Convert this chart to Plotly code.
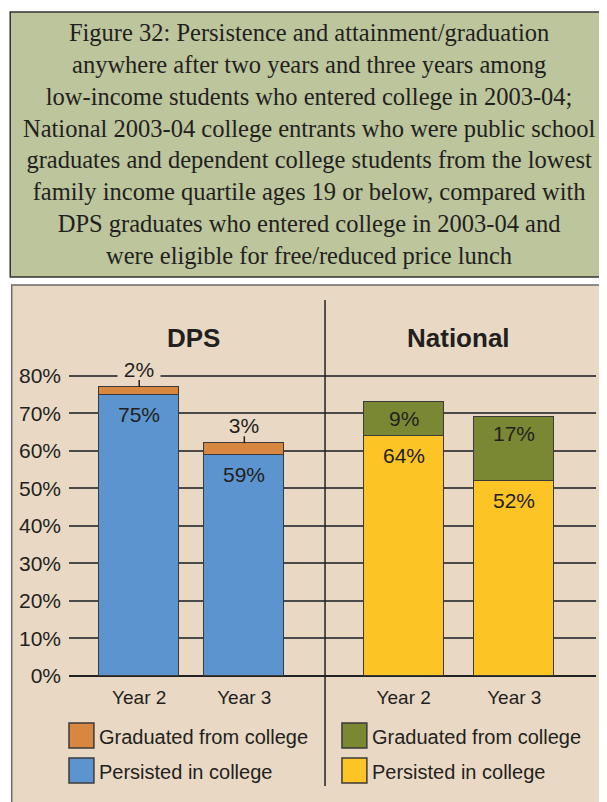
import plotly.graph_objects as go

# ---- data ----
years = ["Year 2", "Year 3"]
dps_persisted = [75, 59]
dps_graduated = [2, 3]
nat_persisted = [64, 52]
nat_graduated = [9, 17]
group_titles = ["DPS", "National"]
series_names = ["Graduated from college", "Persisted in college"]
y_ticks = [0, 10, 20, 30, 40, 50, 60, 70, 80]
title_lines = [
    "Figure 32: Persistence and attainment/graduation",
    "anywhere after two years and three years among",
    "low-income students who entered college in 2003-04;",
    "National 2003-04 college entrants who were public school",
    "graduates and dependent college students from the lowest",
    "family income quartile ages 19 or below, compared with",
    "DPS graduates who entered college in 2003-04 and",
    "were eligible for free/reduced price lunch",
]

# ---- styling ----
BLUE = "#5b94ce"
ORANGE = "#d88740"
YELLOW = "#fdc425"
OLIVE = "#7a8834"
BEIGE = "#e9d9c4"
GREENBOX = "#bcc59b"
INK = "#231f20"
EDGE = "#3a3a3a"
SANS = "Liberation Sans, Arial, sans-serif"
SERIF = "Liberation Serif, Times New Roman, serif"

# page is 607x802; the html body has an 8px margin, so the figure is offset
PAGE_W, PAGE_H, OFF = 607, 802, 8
W_FIG, H_FIG = PAGE_W - OFF, PAGE_H - OFF
L, R, T, B = 67, 596, 372, 676  # plot area in page pixels
PW, PH = R - L, B - T


def px_x(x):
    return (x - L) / PW


def px_y(y):
    return (B - y) / PH


split = px_x(324)

fig = go.Figure()
line = dict(color=EDGE, width=1.5)
fig.add_trace(go.Bar(x=years, y=dps_persisted, marker=dict(color=BLUE, line=line),
                     width=0.758, xaxis="x", yaxis="y", name=series_names[1]))
fig.add_trace(go.Bar(x=years, y=dps_graduated, marker=dict(color=ORANGE, line=line),
                     width=0.758, xaxis="x", yaxis="y", name=series_names[0]))
fig.add_trace(go.Bar(x=years, y=nat_persisted, marker=dict(color=YELLOW, line=line),
                     width=0.72, xaxis="x2", yaxis="y", name=series_names[1]))
fig.add_trace(go.Bar(x=years, y=nat_graduated, marker=dict(color=OLIVE, line=line),
                     width=0.72, xaxis="x2", yaxis="y", name=series_names[0]))

ann = []
shapes = []
LBL = dict(family=SANS, size=21, color=INK)

# value labels
for xr, pers, grad, small in (("x", dps_persisted, dps_graduated, True),
                              ("x2", nat_persisted, nat_graduated, False)):
    for i, yr in enumerate(years):
        ann.append(dict(x=yr, y=pers[i], xref=xr, yref="y", text=f"{pers[i]}%",
                        showarrow=False, yshift=-20, yanchor="middle", font=LBL))
        top = pers[i] + grad[i]
        if small:
            ann.append(dict(x=yr, y=top, xref=xr, yref="y", text=f"{grad[i]}%",
                            showarrow=True, arrowhead=0, arrowwidth=1.5, arrowcolor=INK,
                            ax=0, ay=-18, bgcolor=BEIGE, width=40, height=19, font=LBL))
        else:
            ann.append(dict(x=yr, y=top, xref=xr, yref="y", text=f"{grad[i]}%",
                            showarrow=False, yshift=-16, yanchor="middle", font=LBL))

# group titles
for gx, t in zip((192, 458), group_titles):
    ann.append(dict(x=px_x(gx), y=px_y(338), xref="paper", yref="paper", text=f"<b>{t}</b>",
                    showarrow=False, xanchor="center", yanchor="middle",
                    font=dict(family=SANS, size=26, color=INK)))

# title
ann.append(dict(x=px_x(308), y=px_y(144), xref="paper", yref="paper",
                text="<br>".join(title_lines), showarrow=False, align="center",
                xanchor="center", yanchor="middle",
                font=dict(family=SERIF, size=24.5, color=INK)))

# legends
for sx, colors in ((67, (ORANGE, BLUE)), (341, (OLIVE, YELLOW))):
    for j, (cy, name) in enumerate(((735.5, series_names[0]), (770.5, series_names[1]))):
        shapes.append(dict(type="rect", xref="paper", yref="paper",
                           x0=px_x(sx), x1=px_x(sx + 25), y0=px_y(cy - 12.5), y1=px_y(cy + 12.5),
                           fillcolor=colors[j], line=dict(color=EDGE, width=1.5), layer="above"))
        ann.append(dict(x=px_x(sx + 28), y=px_y(cy + 1.5), xref="paper", yref="paper", text=name,
                        showarrow=False, xanchor="left", yanchor="middle",
                        font=dict(family=SANS, size=20, color=INK)))

# background panels
shapes.insert(0, dict(type="rect", xref="paper", yref="paper",
                      x0=px_x(9.5), x1=px_x(640), y0=px_y(820), y1=px_y(285),
                      fillcolor=BEIGE, line=dict(color="#6a6a6a", width=1.5), layer="below"))
shapes.insert(0, dict(type="rect", xref="paper", yref="paper",
                      x0=px_x(8), x1=px_x(640), y0=px_y(277), y1=px_y(12),
                      fillcolor=GREENBOX, line=dict(color="#333333", width=1.5), layer="below"))
# divider
shapes.append(dict(type="line", xref="paper", yref="paper",
                   x0=split, x1=split, y0=px_y(786), y1=px_y(300),
                   line=dict(color="#222222", width=1.5), layer="above"))

axis_common = dict(type="category", showgrid=False, zeroline=False, showline=False,
                   ticks="", tickfont=dict(family=SANS, size=19, color=INK),
                   fixedrange=True, ticklabelstandoff=8)

fig.update_layout(
    width=W_FIG, height=H_FIG,
    margin=dict(l=L - OFF, r=PAGE_W - R, t=T - OFF, b=PAGE_H - B, pad=0),
    paper_bgcolor="white", plot_bgcolor="rgba(0,0,0,0)",
    barmode="stack", showlegend=False, bargap=0,
    xaxis=dict(domain=[0, split], range=[-0.668, 1.768], anchor="y", **axis_common),
    xaxis2=dict(domain=[split, 1], range=[-0.712, 1.739], anchor="y", **axis_common),
    yaxis=dict(range=[0, 81], tickvals=y_ticks, ticktext=[f"{v}%" for v in y_ticks],
               showgrid=True, gridcolor="#4a4a4a", gridwidth=1.5,
               zeroline=True, zerolinecolor="#222222", zerolinewidth=2,
               showline=False, ticks="", ticklabelstandoff=7,
               tickfont=dict(family=SANS, size=21, color=INK), fixedrange=True),
    annotations=ann, shapes=shapes,
)

fig.write_html("out.html")
